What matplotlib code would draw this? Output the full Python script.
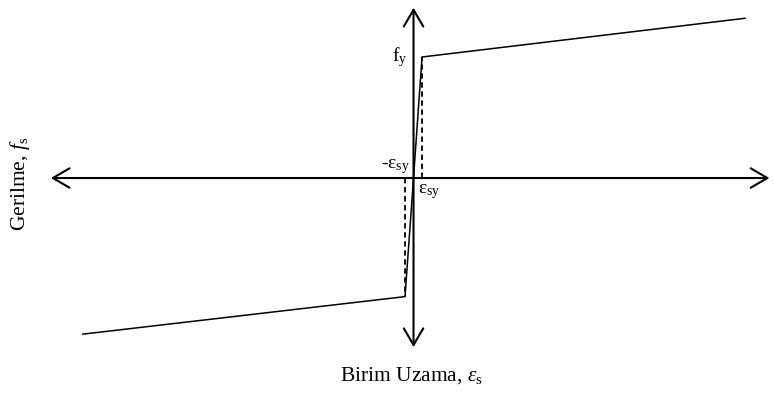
import matplotlib.pyplot as plt
from matplotlib.patches import FancyArrowPatch

plt.rcParams['font.family'] = ['Liberation Serif', 'DejaVu Serif']
plt.rcParams['mathtext.fontset'] = 'custom'
plt.rcParams['mathtext.rm'] = 'Liberation Serif'
plt.rcParams['mathtext.it'] = 'Liberation Serif:italic'

# strain in units of eps_sy, stress in units of f_y
strain = [-38.9, -1.0, 0.0, 1.0, 39.0]
stress = [-1.29, -0.98, 0.0, 1.0, 1.32]
eps_sy = 1.0
f_y = 1.0

fig = plt.figure(figsize=(7.74, 3.99), dpi=100)
ax = fig.add_axes([0, 0, 1, 1])
ax.set_xlim(-48.65, 42.41)
ax.set_ylim(-1.826, 1.471)
ax.axis('off')

# axes with open arrowheads on both ends
style = '<->,head_length=0.6,head_width=0.35'
ax.add_patch(FancyArrowPatch((-43.0, 0), (42.2, 0), arrowstyle=style,
                             mutation_scale=20, lw=1.5, color='black'))
ax.add_patch(FancyArrowPatch((0, -1.42), (0, 1.43), arrowstyle=style,
                             mutation_scale=20, lw=1.5, color='black'))

# bilinear steel curve
ax.plot(strain, stress, color='black', lw=1.1)

# yield strain guides
ax.plot([eps_sy, eps_sy], [0, stress[3]], color='black', lw=1.3,
        ls=(0, (3, 2)))
ax.plot([-eps_sy, -eps_sy], [0, stress[1]], color='black', lw=1.3,
        ls=(0, (3, 2)))

ax.text(-0.7, f_y, r'f$_{\mathrm{y}}$', fontsize=14, ha='right', va='center')
ax.text(-0.4, 0.02, r'-ε$_{\mathrm{sy}}$', fontsize=14, ha='right', va='bottom')
ax.text(0.5, -0.03, r'ε$_{\mathrm{sy}}$', fontsize=14, ha='left', va='top')

fig.text(0.531, 0.058, r'Birim Uzama, $ε_{\mathrm{s}}$', fontsize=15.5,
         ha='center', va='center')
fig.text(0.026, 0.54, r'Gerilme, $f_{\mathrm{s}}$', fontsize=15.5,
         ha='center', va='center', rotation=90)

fig.savefig('out.png', dpi=100)
